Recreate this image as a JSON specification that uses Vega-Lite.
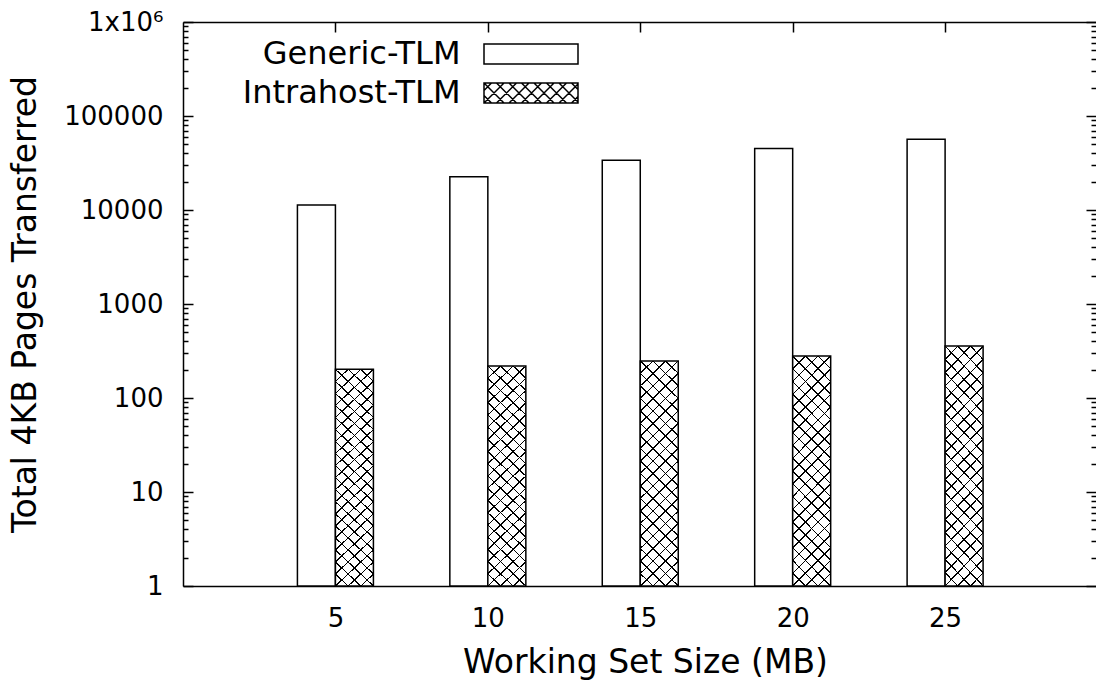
{
  "$schema": "https://vega.github.io/schema/vega-lite/v6.json",
  "width": 913,
  "height": 564,
  "autosize": {"type": "none"},
  "padding": {"left": 183, "top": 22, "right": 0, "bottom": 98},
  "background": "white",
  "config": {
    "view": {"stroke": null},
    "font": "DejaVu Sans",
    "axis": {
      "labelFont": "DejaVu Sans",
      "titleFont": "DejaVu Sans",
      "labelColor": "black",
      "titleColor": "black",
      "domainColor": "black",
      "tickColor": "black",
      "domainWidth": 1.5,
      "tickWidth": 1.5,
      "grid": false,
      "labelFontSize": 26,
      "titleFontSize": 33,
      "titleFontWeight": "normal",
      "labelOverlap": false,
      "labelBound": false,
      "labelFlush": false
    },
    "legend": {
      "labelFont": "DejaVu Sans",
      "labelColor": "black"
    }
  },
  "data": {
    "values": [
      {"size": 5, "generic": 11300, "intrahost": 202},
      {"size": 10, "generic": 22600, "intrahost": 219},
      {"size": 15, "generic": 33900, "intrahost": 248},
      {"size": 20, "generic": 45200, "intrahost": 280},
      {"size": 25, "generic": 56500, "intrahost": 357}
    ]
  },
  "resolve": {
    "scale": {"x": "independent", "y": "independent"},
    "axis": {"x": "independent", "y": "independent"}
  },
  "layer": [
    {
      "mark": {"type": "point", "filled": false, "stroke": "black", "strokeWidth": 1.5, "xOffset": -19, "yOffset": 30},
      "encoding": {
        "x": {"field": "size", "type": "quantitative", "scale": {"domain": [0, 29.95], "nice": false, "zero": false, "padding": 0}, "axis": null},
        "y": {"field": "generic", "type": "quantitative", "scale": {"type": "log", "domain": [1, 1000000], "nice": false, "padding": 0}, "axis": null},
        "shape": {
          "datum": "Generic-TLM", "type": "nominal",
          "scale": {
            "domain": ["Generic-TLM", "Intrahost-TLM"],
            "range": [
              "M-4.7,-1L4.7,-1L4.7,1L-4.7,1Z",
              "M-4.7,-1L4.7,-1L4.7,1L-4.7,1ZM-4.7,0.25L-3.95,1M-4.7,-1L-2.7,1M-3.45,-1L-1.45,1M-2.2,-1L-0.2,1M-0.95,-1L1.05,1M0.3,-1L2.3,1M1.55,-1L3.55,1M2.8,-1L4.7,0.9M4.05,-1L4.7,-0.35M-4.7,-0.25L-3.95,-1M-4.7,1L-2.7,-1M-3.45,1L-1.45,-1M-2.2,1L-0.2,-1M-0.95,1L1.05,-1M0.3,1L2.3,-1M1.55,1L3.55,-1M2.8,1L4.7,-0.9M4.05,1L4.7,0.35"
            ]
          },
          "legend": {
            "title": null,
            "orient": "none",
            "legendX": 332,
            "legendY": 16,
            "padding": 0,
            "symbolSize": 400,
            "symbolStrokeWidth": 1.5,
            "symbolStrokeColor": "black",
            "symbolFillColor": "white",
            "symbolOpacity": 1,
            "labelAlign": "right",
            "labelOffset": -86.5,
            "labelFontSize": 32,
            "labelLimit": 500,
            "rowPadding": 7,
            "encoding": {
              "symbols": {
                "update": {
                  "stroke": {"value": "black"},
                  "strokeWidth": {"value": 1.5}
                }
              }
            }
          }
        }
      }
    },
    {
      "mark": {"type": "point", "filled": false, "stroke": "black", "strokeWidth": 1.5, "xOffset": 19, "yOffset": 30},
      "encoding": {
        "x": {"field": "size", "type": "quantitative", "scale": {"domain": [0, 29.95], "nice": false, "zero": false, "padding": 0}, "axis": null},
        "y": {"field": "intrahost", "type": "quantitative", "scale": {"type": "log", "domain": [1, 1000000], "nice": false, "padding": 0}, "axis": null},
        "shape": {"datum": "Intrahost-TLM", "type": "nominal"}
      }
    },
    {
      "mark": {"type": "bar", "width": 38, "xOffset": -19, "fill": "white", "stroke": "black", "strokeWidth": 1.5},
      "encoding": {
        "x": {
          "field": "size", "type": "quantitative",
          "scale": {"domain": [0, 29.95], "nice": false, "zero": false, "padding": 0},
          "axis": {
            "orient": "bottom", "values": [5, 10, 15, 20, 25], "format": "d",
            "title": "Working Set Size (MB)", "titleX": 462,
            "tickSize": -10, "labelPadding": 29, "titlePadding": 15
          }
        },
        "y": {
          "field": "generic", "type": "quantitative",
          "scale": {"type": "log", "domain": [1, 1000000], "nice": false, "padding": 0},
          "axis": {
            "orient": "left",
            "values": [1,2,3,4,5,6,7,8,9,10,20,30,40,50,60,70,80,90,100,200,300,400,500,600,700,800,900,1000,2000,3000,4000,5000,6000,7000,8000,9000,10000,20000,30000,40000,50000,60000,70000,80000,90000,100000,200000,300000,400000,500000,600000,700000,800000,900000,1000000],
            "labelExpr": "datum.value === 1000000 ? '1x10⁶' : (indexof([1,10,100,1000,10000,100000], datum.value) >= 0 ? format(datum.value, 'd') : '')",
            "tickSize": {"condition": {"test": "indexof([1,10,100,1000,10000,100000,1000000], datum.value) >= 0", "value": -10}, "value": -5},
            "labelPadding": 30,
            "title": "Total 4KB Pages Transferred",
            "titlePadding": 21
          }
        },
        "y2": {"datum": 1}
      }
    },
    {
      "mark": {
        "type": "bar", "width": 38, "xOffset": 19, "strokeWidth": 0,
        "fill": {
          "gradient": "linear", "x1": 0, "y1": 0, "x2": 0.1892, "y2": 1.1352,
          "stops": [
            {"offset": 0, "color": "black"}, {"offset": 0.003, "color": "black"}, {"offset": 0.003, "color": "white"},
            {"offset": 0.044619, "color": "white"}, {"offset": 0.044619, "color": "black"}, {"offset": 0.050619, "color": "black"}, {"offset": 0.050619, "color": "white"},
            {"offset": 0.092238, "color": "white"}, {"offset": 0.092238, "color": "black"}, {"offset": 0.098238, "color": "black"}, {"offset": 0.098238, "color": "white"},
            {"offset": 0.139857, "color": "white"}, {"offset": 0.139857, "color": "black"}, {"offset": 0.145857, "color": "black"}, {"offset": 0.145857, "color": "white"},
            {"offset": 0.187476, "color": "white"}, {"offset": 0.187476, "color": "black"}, {"offset": 0.193476, "color": "black"}, {"offset": 0.193476, "color": "white"},
            {"offset": 0.235095, "color": "white"}, {"offset": 0.235095, "color": "black"}, {"offset": 0.241095, "color": "black"}, {"offset": 0.241095, "color": "white"},
            {"offset": 0.282714, "color": "white"}, {"offset": 0.282714, "color": "black"}, {"offset": 0.288714, "color": "black"}, {"offset": 0.288714, "color": "white"},
            {"offset": 0.330333, "color": "white"}, {"offset": 0.330333, "color": "black"}, {"offset": 0.336333, "color": "black"}, {"offset": 0.336333, "color": "white"},
            {"offset": 0.377952, "color": "white"}, {"offset": 0.377952, "color": "black"}, {"offset": 0.383952, "color": "black"}, {"offset": 0.383952, "color": "white"},
            {"offset": 0.425571, "color": "white"}, {"offset": 0.425571, "color": "black"}, {"offset": 0.431571, "color": "black"}, {"offset": 0.431571, "color": "white"},
            {"offset": 0.47319, "color": "white"}, {"offset": 0.47319, "color": "black"}, {"offset": 0.47919, "color": "black"}, {"offset": 0.47919, "color": "white"},
            {"offset": 0.52081, "color": "white"}, {"offset": 0.52081, "color": "black"}, {"offset": 0.52681, "color": "black"}, {"offset": 0.52681, "color": "white"},
            {"offset": 0.568429, "color": "white"}, {"offset": 0.568429, "color": "black"}, {"offset": 0.574429, "color": "black"}, {"offset": 0.574429, "color": "white"},
            {"offset": 0.616048, "color": "white"}, {"offset": 0.616048, "color": "black"}, {"offset": 0.622048, "color": "black"}, {"offset": 0.622048, "color": "white"},
            {"offset": 0.663667, "color": "white"}, {"offset": 0.663667, "color": "black"}, {"offset": 0.669667, "color": "black"}, {"offset": 0.669667, "color": "white"},
            {"offset": 0.711286, "color": "white"}, {"offset": 0.711286, "color": "black"}, {"offset": 0.717286, "color": "black"}, {"offset": 0.717286, "color": "white"},
            {"offset": 0.758905, "color": "white"}, {"offset": 0.758905, "color": "black"}, {"offset": 0.764905, "color": "black"}, {"offset": 0.764905, "color": "white"},
            {"offset": 0.806524, "color": "white"}, {"offset": 0.806524, "color": "black"}, {"offset": 0.812524, "color": "black"}, {"offset": 0.812524, "color": "white"},
            {"offset": 0.854143, "color": "white"}, {"offset": 0.854143, "color": "black"}, {"offset": 0.860143, "color": "black"}, {"offset": 0.860143, "color": "white"},
            {"offset": 0.901762, "color": "white"}, {"offset": 0.901762, "color": "black"}, {"offset": 0.907762, "color": "black"}, {"offset": 0.907762, "color": "white"},
            {"offset": 0.949381, "color": "white"}, {"offset": 0.949381, "color": "black"}, {"offset": 0.955381, "color": "black"}, {"offset": 0.955381, "color": "white"},
            {"offset": 0.997, "color": "white"}, {"offset": 0.997, "color": "black"}, {"offset": 1, "color": "black"}
          ]
        }
      },
      "encoding": {
        "x": {
          "field": "size", "type": "quantitative",
          "scale": {"domain": [0, 29.95], "nice": false, "zero": false, "padding": 0},
          "axis": {"orient": "top", "values": [5, 10, 15, 20, 25], "labels": false, "title": null, "tickSize": -10}
        },
        "y": {
          "field": "intrahost", "type": "quantitative",
          "scale": {"type": "log", "domain": [1, 1000000], "nice": false, "padding": 0},
          "axis": {
            "orient": "right", "domain": false, "labels": false, "title": null,
            "values": [1,2,3,4,5,6,7,8,9,10,20,30,40,50,60,70,80,90,100,200,300,400,500,600,700,800,900,1000,2000,3000,4000,5000,6000,7000,8000,9000,10000,20000,30000,40000,50000,60000,70000,80000,90000,100000,200000,300000,400000,500000,600000,700000,800000,900000,1000000],
            "tickSize": {"condition": {"test": "indexof([1,10,100,1000,10000,100000,1000000], datum.value) >= 0", "value": -10}, "value": -5}
          }
        },
        "y2": {"datum": 1}
      }
    },
    {
      "mark": {
        "type": "bar", "width": 38, "xOffset": 19, "stroke": "black", "strokeWidth": 1.5,
        "fill": {
          "gradient": "linear", "x1": 1, "y1": 0, "x2": 0.8108, "y2": 1.1352,
          "stops": [
            {"offset": 0, "color": "black"}, {"offset": 0.003, "color": "black"}, {"offset": 0.003, "color": "rgba(0,0,0,0)"},
            {"offset": 0.044619, "color": "rgba(0,0,0,0)"}, {"offset": 0.044619, "color": "black"}, {"offset": 0.050619, "color": "black"}, {"offset": 0.050619, "color": "rgba(0,0,0,0)"},
            {"offset": 0.092238, "color": "rgba(0,0,0,0)"}, {"offset": 0.092238, "color": "black"}, {"offset": 0.098238, "color": "black"}, {"offset": 0.098238, "color": "rgba(0,0,0,0)"},
            {"offset": 0.139857, "color": "rgba(0,0,0,0)"}, {"offset": 0.139857, "color": "black"}, {"offset": 0.145857, "color": "black"}, {"offset": 0.145857, "color": "rgba(0,0,0,0)"},
            {"offset": 0.187476, "color": "rgba(0,0,0,0)"}, {"offset": 0.187476, "color": "black"}, {"offset": 0.193476, "color": "black"}, {"offset": 0.193476, "color": "rgba(0,0,0,0)"},
            {"offset": 0.235095, "color": "rgba(0,0,0,0)"}, {"offset": 0.235095, "color": "black"}, {"offset": 0.241095, "color": "black"}, {"offset": 0.241095, "color": "rgba(0,0,0,0)"},
            {"offset": 0.282714, "color": "rgba(0,0,0,0)"}, {"offset": 0.282714, "color": "black"}, {"offset": 0.288714, "color": "black"}, {"offset": 0.288714, "color": "rgba(0,0,0,0)"},
            {"offset": 0.330333, "color": "rgba(0,0,0,0)"}, {"offset": 0.330333, "color": "black"}, {"offset": 0.336333, "color": "black"}, {"offset": 0.336333, "color": "rgba(0,0,0,0)"},
            {"offset": 0.377952, "color": "rgba(0,0,0,0)"}, {"offset": 0.377952, "color": "black"}, {"offset": 0.383952, "color": "black"}, {"offset": 0.383952, "color": "rgba(0,0,0,0)"},
            {"offset": 0.425571, "color": "rgba(0,0,0,0)"}, {"offset": 0.425571, "color": "black"}, {"offset": 0.431571, "color": "black"}, {"offset": 0.431571, "color": "rgba(0,0,0,0)"},
            {"offset": 0.47319, "color": "rgba(0,0,0,0)"}, {"offset": 0.47319, "color": "black"}, {"offset": 0.47919, "color": "black"}, {"offset": 0.47919, "color": "rgba(0,0,0,0)"},
            {"offset": 0.52081, "color": "rgba(0,0,0,0)"}, {"offset": 0.52081, "color": "black"}, {"offset": 0.52681, "color": "black"}, {"offset": 0.52681, "color": "rgba(0,0,0,0)"},
            {"offset": 0.568429, "color": "rgba(0,0,0,0)"}, {"offset": 0.568429, "color": "black"}, {"offset": 0.574429, "color": "black"}, {"offset": 0.574429, "color": "rgba(0,0,0,0)"},
            {"offset": 0.616048, "color": "rgba(0,0,0,0)"}, {"offset": 0.616048, "color": "black"}, {"offset": 0.622048, "color": "black"}, {"offset": 0.622048, "color": "rgba(0,0,0,0)"},
            {"offset": 0.663667, "color": "rgba(0,0,0,0)"}, {"offset": 0.663667, "color": "black"}, {"offset": 0.669667, "color": "black"}, {"offset": 0.669667, "color": "rgba(0,0,0,0)"},
            {"offset": 0.711286, "color": "rgba(0,0,0,0)"}, {"offset": 0.711286, "color": "black"}, {"offset": 0.717286, "color": "black"}, {"offset": 0.717286, "color": "rgba(0,0,0,0)"},
            {"offset": 0.758905, "color": "rgba(0,0,0,0)"}, {"offset": 0.758905, "color": "black"}, {"offset": 0.764905, "color": "black"}, {"offset": 0.764905, "color": "rgba(0,0,0,0)"},
            {"offset": 0.806524, "color": "rgba(0,0,0,0)"}, {"offset": 0.806524, "color": "black"}, {"offset": 0.812524, "color": "black"}, {"offset": 0.812524, "color": "rgba(0,0,0,0)"},
            {"offset": 0.854143, "color": "rgba(0,0,0,0)"}, {"offset": 0.854143, "color": "black"}, {"offset": 0.860143, "color": "black"}, {"offset": 0.860143, "color": "rgba(0,0,0,0)"},
            {"offset": 0.901762, "color": "rgba(0,0,0,0)"}, {"offset": 0.901762, "color": "black"}, {"offset": 0.907762, "color": "black"}, {"offset": 0.907762, "color": "rgba(0,0,0,0)"},
            {"offset": 0.949381, "color": "rgba(0,0,0,0)"}, {"offset": 0.949381, "color": "black"}, {"offset": 0.955381, "color": "black"}, {"offset": 0.955381, "color": "rgba(0,0,0,0)"},
            {"offset": 0.997, "color": "rgba(0,0,0,0)"}, {"offset": 0.997, "color": "black"}, {"offset": 1, "color": "black"}
          ]
        }
      },
      "encoding": {
        "x": {"field": "size", "type": "quantitative", "scale": {"domain": [0, 29.95], "nice": false, "zero": false, "padding": 0}, "axis": null},
        "y": {"field": "intrahost", "type": "quantitative", "scale": {"type": "log", "domain": [1, 1000000], "nice": false, "padding": 0}, "axis": null},
        "y2": {"datum": 1}
      }
    }
  ]
}
